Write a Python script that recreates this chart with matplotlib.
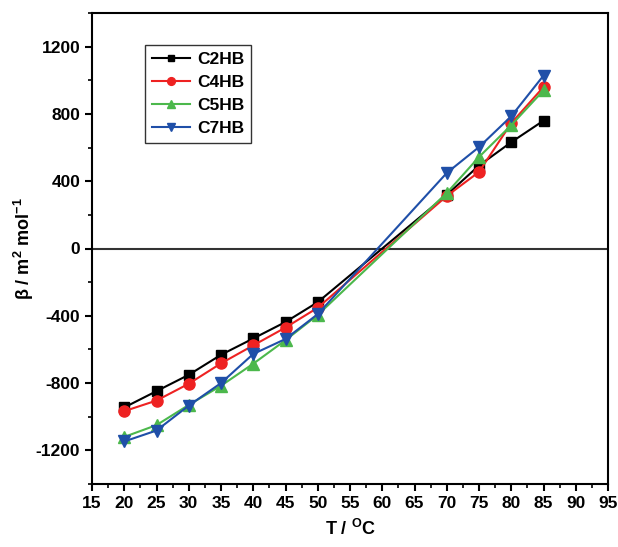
import matplotlib
matplotlib.use("Agg")
import matplotlib.pyplot as plt
from matplotlib.ticker import MultipleLocator

plt.rcParams['font.family'] = ['Liberation Sans', 'DejaVu Sans']
plt.rcParams['font.weight'] = 'bold'
plt.rcParams['axes.unicode_minus'] = False

T = [20, 25, 30, 35, 40, 45, 50, 70, 75, 80, 85]
c2hb = [-945, -848, -751, -632, -535, -437, -319, 319, 493, 632, 760]
c4hb = [-967, -904, -804, -683, -576, -470, -352, 312, 455, 745, 960]
c5hb = [-1120, -1050, -930, -816, -685, -545, -395, 330, 544, 733, 940]
c7hb = [-1147, -1082, -934, -800, -627, -538, -390, 449, 603, 786, 1028]

series = [
    ("C2HB", c2hb, "#000000", "s", 7),
    ("C4HB", c4hb, "#ee2222", "o", 8),
    ("C5HB", c5hb, "#4cb84c", "^", 8),
    ("C7HB", c7hb, "#1f4fa8", "v", 8),
]

fig = plt.figure(figsize=(6.18, 5.47), dpi=100)
ax = fig.add_axes([92/618, 1-484/547, (608-92)/618, (484-13)/547])

ax.axhline(0, color="#333333", lw=1.5, zorder=1)
for name, vals, col, mk, ms in series:
    ax.plot(T, vals, color=col, marker=mk, markersize=ms, lw=1.5, label=name, zorder=3)

ax.set_xlim(15, 95)
ax.set_ylim(-1400, 1400)
ax.xaxis.set_major_locator(MultipleLocator(5))
ax.xaxis.set_minor_locator(MultipleLocator(2.5))
ax.yaxis.set_major_locator(MultipleLocator(400))
ax.yaxis.set_minor_locator(MultipleLocator(200))
ax.tick_params(which='major', direction='out', length=5, width=1.5, labelsize=12.5)
ax.tick_params(which='minor', direction='out', length=3, width=1.2)
for lab in ax.get_xticklabels() + ax.get_yticklabels():
    lab.set_fontweight('bold')
for s in ax.spines.values():
    s.set_linewidth(1.5)

ax.set_xlabel(r"T / $\mathregular{^{O}}$C", fontsize=13, fontweight='bold', labelpad=6)
ax.set_ylabel(r"β / m$\mathregular{^{2}}$ mol$\mathregular{^{-1}}$", fontsize=13, fontweight='bold', labelpad=0)

leg = ax.legend(loc='upper left', bbox_to_anchor=((145-92)/516, 1-(45-13)/471),
                frameon=True, fancybox=False, edgecolor='black', fontsize=12.5,
                handlelength=2.2, markerscale=0.7, borderpad=0.4, labelspacing=0.45,
                handletextpad=0.4, borderaxespad=0)
leg.get_frame().set_linewidth(1.0)
for t in leg.get_texts():
    t.set_fontweight('bold')

fig.savefig("out.png", dpi=100)
